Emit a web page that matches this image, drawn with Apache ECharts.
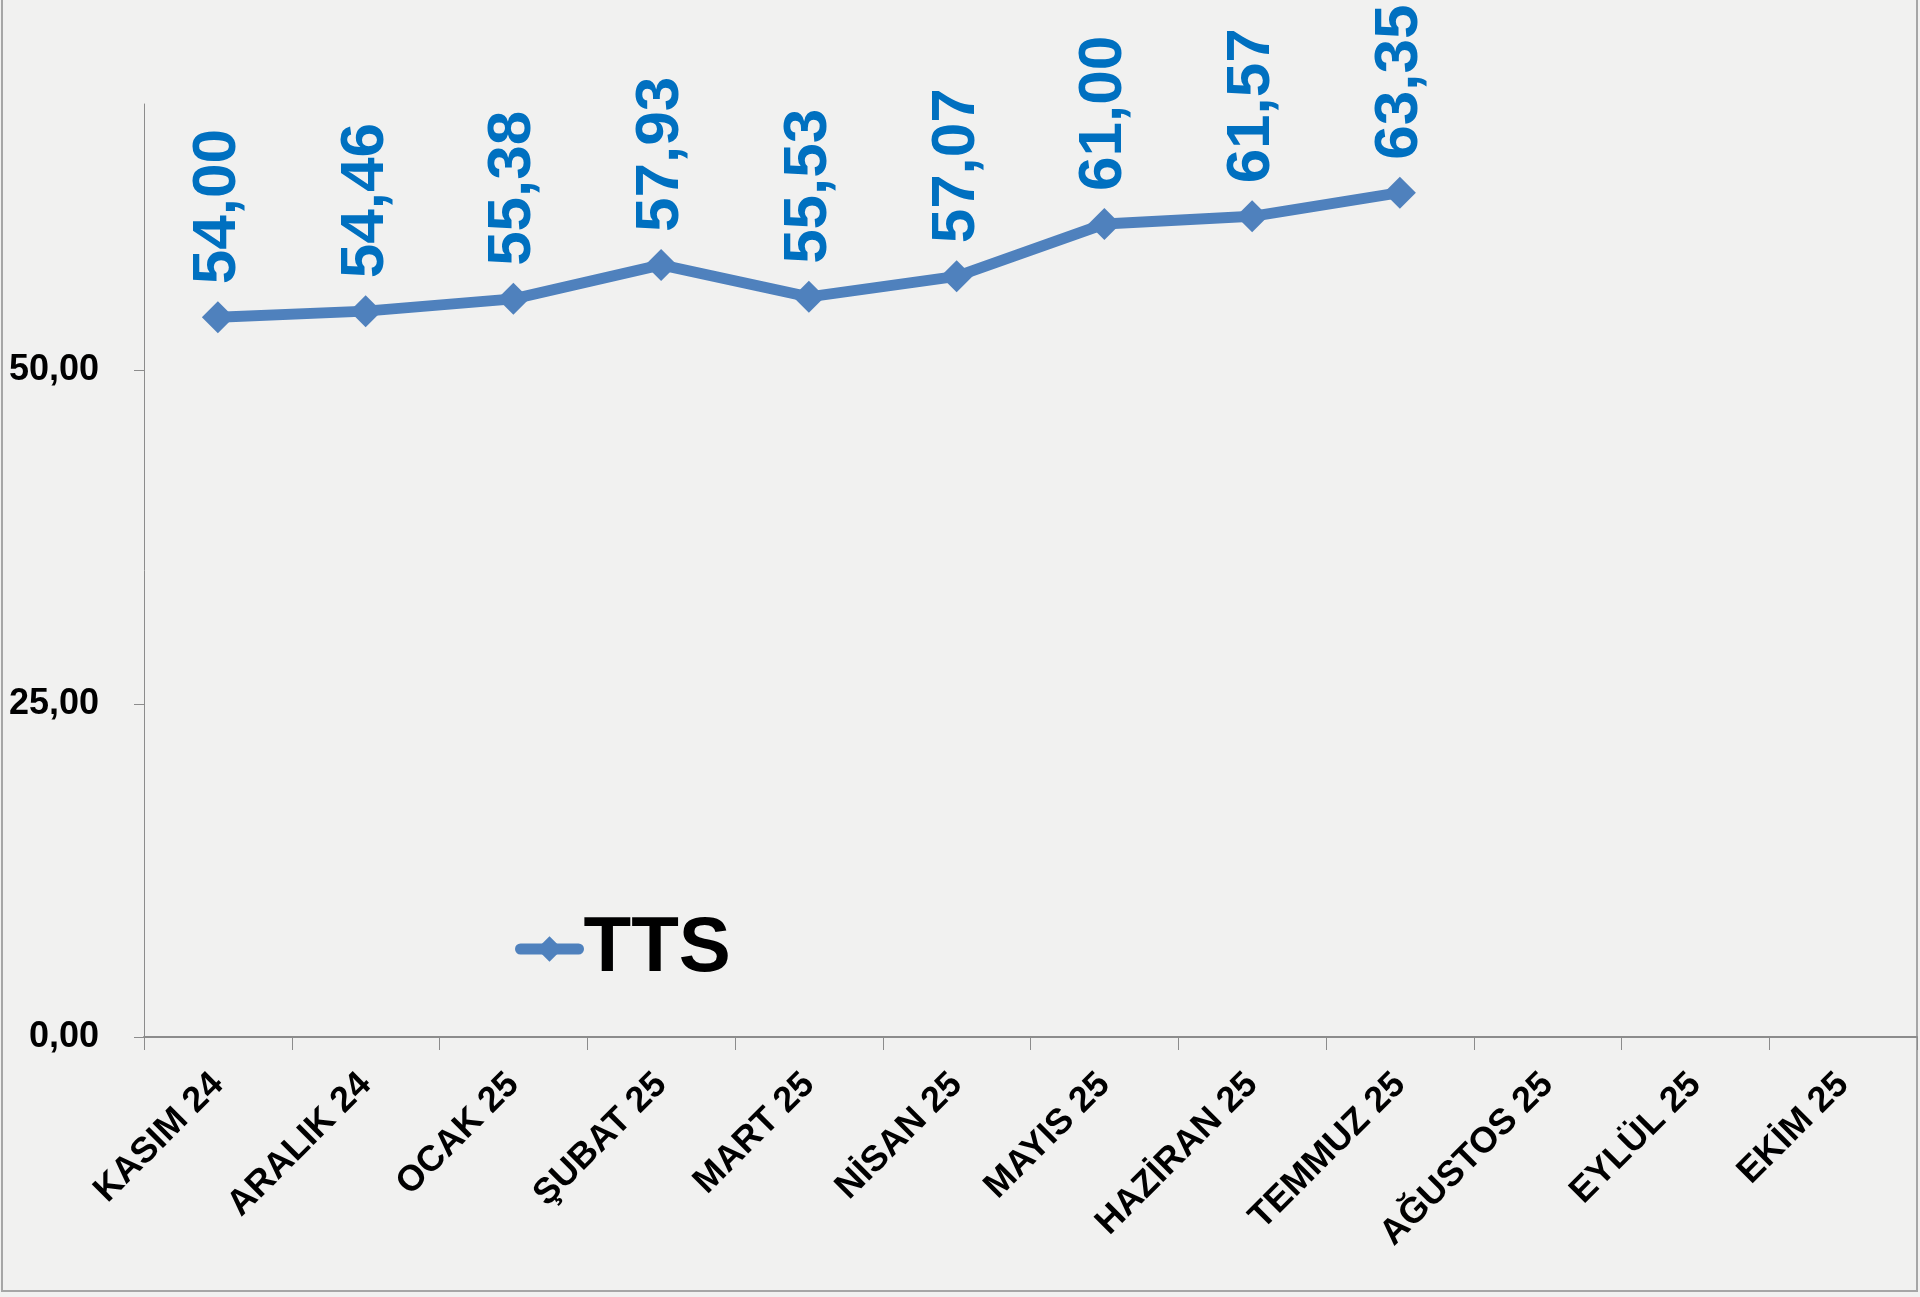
<!DOCTYPE html>
<html>
<head>
<meta charset="utf-8">
<script src="https://cdn.jsdelivr.net/npm/echarts@6/dist/echarts.min.js"></script>
<style>
  html, body { margin: 0; padding: 0; }
  #chart { width: 1920px; height: 1297px; }
</style>
</head>
<body>
<div id="chart"></div>
<script>
// aylar
const months = ['KASIM 24', 'ARALIK 24', 'OCAK 25', 'ŞUBAT 25', 'MART 25', 'NİSAN 25',
  'MAYIS 25', 'HAZİRAN 25', 'TEMMUZ 25', 'AĞUSTOS 25', 'EYLÜL 25', 'EKİM 25']
// TTS degerleri (bos aylar null)
const ttsValues = [54.00, 54.46, 55.38, 57.93, 55.53, 57.07, 61.00, 61.57, 63.35, null, null, null]
const yTicks = [0, 25, 50]

const fmt = v => Number(v).toFixed(2).replace('.', ',')
const font = '"Liberation Sans", Arial, sans-serif'

const myChart = echarts.init(document.getElementById('chart'))
const option = {
  backgroundColor: '#f1f1f0',
  animation: false,
  textStyle: { fontFamily: font },
  grid: { left: 144, right: 3, top: 104, bottom: 260 },
  graphic: [{
    type: 'rect',
    shape: { x: 2, y: -2, width: 1915, height: 1293 },
    style: { fill: 'none', stroke: '#a6a6a6', lineWidth: 2 },
    silent: true
  }],
  legend: {
    left: 510,
    top: 902,
    itemWidth: 58,
    itemHeight: 32,
    data: ['TTS'],
    lineStyle: { width: 11, cap: 'round' },
    textStyle: { fontSize: 78, fontWeight: 'bold', color: '#000', fontFamily: font, lineHeight: 84 }
  },
  xAxis: {
    type: 'category',
    data: months,
    boundaryGap: true,
    axisLine: { lineStyle: { color: '#8c8c8c', width: 2 } },
    axisTick: { show: true, length: 13, alignWithLabel: false, lineStyle: { color: '#8c8c8c', width: 1 } },
    axisLabel: {
      interval: 0,
      rotate: 45,
      margin: 42,
      fontSize: 36,
      fontWeight: 'bold',
      color: '#000',
      fontFamily: font
    },
    splitLine: { show: false }
  },
  yAxis: {
    type: 'value',
    min: 0,
    max: 70,
    interval: 25,
    axisLine: { show: true, lineStyle: { color: '#8c8c8c', width: 1 } },
    axisTick: { show: true, length: 10, customValues: yTicks, lineStyle: { color: '#8c8c8c' } },
    axisLabel: {
      customValues: yTicks,
      margin: 45,
      fontSize: 36,
      fontWeight: 'bold',
      color: '#000',
      fontFamily: font,
      formatter: v => fmt(v)
    },
    splitLine: { show: false }
  },
  series: [{
    name: 'TTS',
    type: 'line',
    data: ttsValues,
    symbol: 'diamond',
    symbolSize: 32,
    lineStyle: { color: '#4f81bd', width: 11, cap: 'round', join: 'round' },
    itemStyle: { color: '#4f81bd' },
    label: {
      show: true,
      position: 'top',
      distance: 17,
      rotate: 90,
      align: 'left',
      verticalAlign: 'middle',
      fontSize: 62,
      fontWeight: 'bold',
      color: '#0070c0',
      fontFamily: font,
      formatter: p => fmt(p.value)
    }
  }]
}
myChart.setOption(option)
window.addEventListener('resize', () => {
  myChart.resize()
})
</script>
</body>
</html>
